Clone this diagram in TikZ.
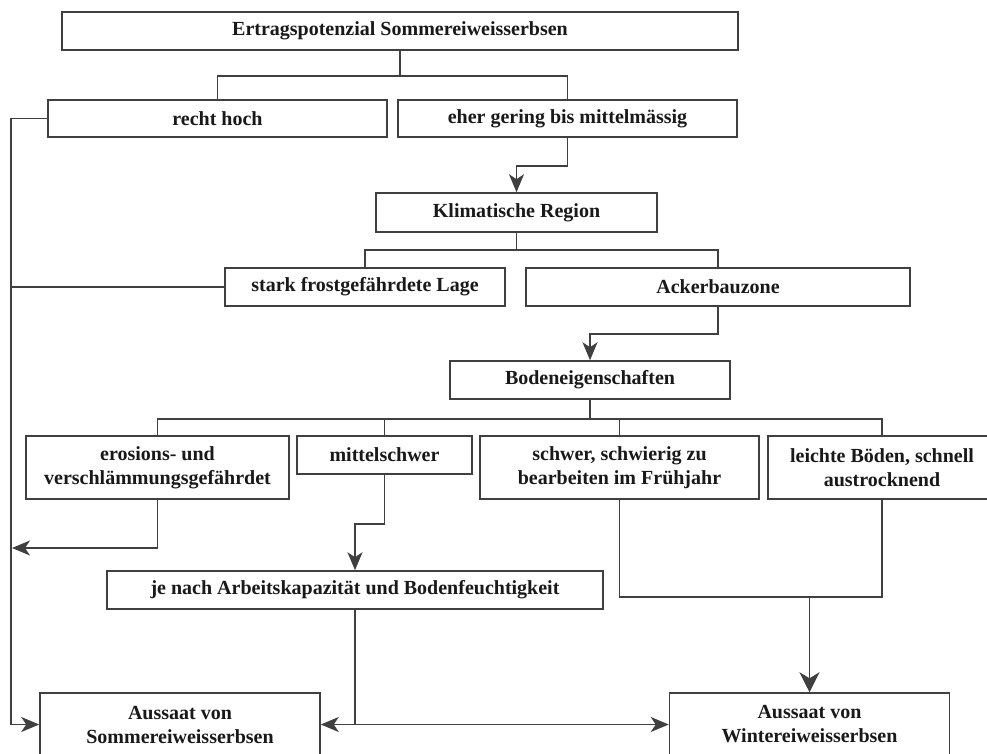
\documentclass[tikz,border=0pt]{standalone}
\usepackage{fontspec}
\setmainfont{Liberation Serif}
\usetikzlibrary{arrows.meta}
\definecolor{ln}{gray}{0.25}
\tikzset{
  box/.style={draw=ln, line width=1.5pt, inner sep=0pt, align=center, text=black!90,
    font=\fontsize{20}{24}\selectfont\bfseries},
  conn/.style={draw=ln, line width=1.5pt},
  tip/.tip={Stealth[length=18pt,width=15pt,inset=5pt]},
  bigtip/.tip={Stealth[length=20pt,width=20pt,inset=6pt]},
  arr/.style={conn, -tip},
  darr/.style={conn, tip-tip}
}
\begin{document}
\begin{tikzpicture}[x=1pt,y=-1pt]
\useasboundingbox (0,0) rectangle (987,753);
\clip (0,0) rectangle (987,753);
\fill[white] (0,0) rectangle (987,753);
\node[box, minimum width=676pt, minimum height=38pt] (top) at (400,31) {Ertragspotenzial Sommereiweisserbsen};
\node[box, minimum width=339pt, minimum height=37pt] (recht) at (217.5,118.5) {recht hoch};
\node[box, minimum width=339pt, minimum height=37pt] (eher) at (567.5,118.5) {eher gering bis mittelmässig};
\node[box, minimum width=281pt, minimum height=39pt] (klima) at (516.5,212.5) {Klimatische Region};
\node[box, minimum width=280pt, minimum height=38pt] (stark) at (365,287) {stark frostgefährdete Lage};
\node[box, minimum width=384pt, minimum height=38pt] (acker) at (718,287) {Ackerbauzone};
\node[box, minimum width=280pt, minimum height=38pt] (boden) at (590,380) {Bodeneigenschaften};
\node[box, minimum width=263pt, minimum height=63pt] (erosion) at (157.5,467.5) {erosions- und\\verschlämmungsgefährdet};
\node[box, minimum width=175pt, minimum height=38pt] (mittel) at (384.5,455) {mittelschwer};
\node[box, minimum width=279pt, minimum height=63pt] (schwer) at (619.5,467.5) {schwer, schwierig zu\\bearbeiten im Frühjahr};
\node[box, minimum width=228pt, minimum height=63pt] (leichte) at (882,467.5) {leichte Böden, schnell\\austrocknend};
\node[box, minimum width=496pt, minimum height=38pt] (jenach) at (355,590) {je nach Arbeitskapazität und Bodenfeuchtigkeit};
\node[box, minimum width=280pt, minimum height=63pt] (sommer) at (180,724.5) {Aussaat von\\Sommereiweisserbsen};
\node[box, minimum width=280pt, minimum height=63pt] (winter) at (809.5,724.5) {Aussaat von\\Wintereiweisserbsen};

\coordinate (tl) at (11,118.5);
\coordinate (el) at (12,548);
\coordinate (j1) at (809.5,596);

% top level
\draw[conn] (top.south) -- ++(0,25) -| (recht.north);
\draw[conn] (top.south) -- ++(0,25) -| (eher.north);
% left trunk
\draw[arr] (recht.west) -- (tl) |- (sommer.west);
\draw[conn] (stark.west) -- (tl |- stark.west);
\draw[arr] (erosion.south) |- (el);
% climate
\draw[arr] (eher.south) -- ++(0,28) -| (klima.north);
\draw[conn] (klima.south) -- ++(0,17) -| (stark.north);
\draw[conn] (klima.south) -- ++(0,17) -| (acker.north);
% soil
\draw[arr] (acker.south) -- ++(0,27) -| (boden.north);
\draw[conn] (boden.south) -- ++(0,19) -| (erosion.north);
\draw[conn] (boden.south) -- ++(0,19) -| (mittel.north);
\draw[conn] (boden.south) -- ++(0,19) -| (schwer.north);
\draw[conn] (boden.south) -- ++(0,19) -| (leichte.north);
% mittelschwer
\draw[arr] (mittel.south) -- ++(0,49) -| (jenach.north);
\draw[conn] (jenach.south) -- (jenach.south |- sommer.east);
\draw[darr] (sommer.east) -- (winter.west);
% heavy / light
\draw[conn] (schwer.south) -- ++(0,97) -| (leichte.south);
\draw[conn, -bigtip] (j1) -- (winter.north);
\end{tikzpicture}
\end{document}
